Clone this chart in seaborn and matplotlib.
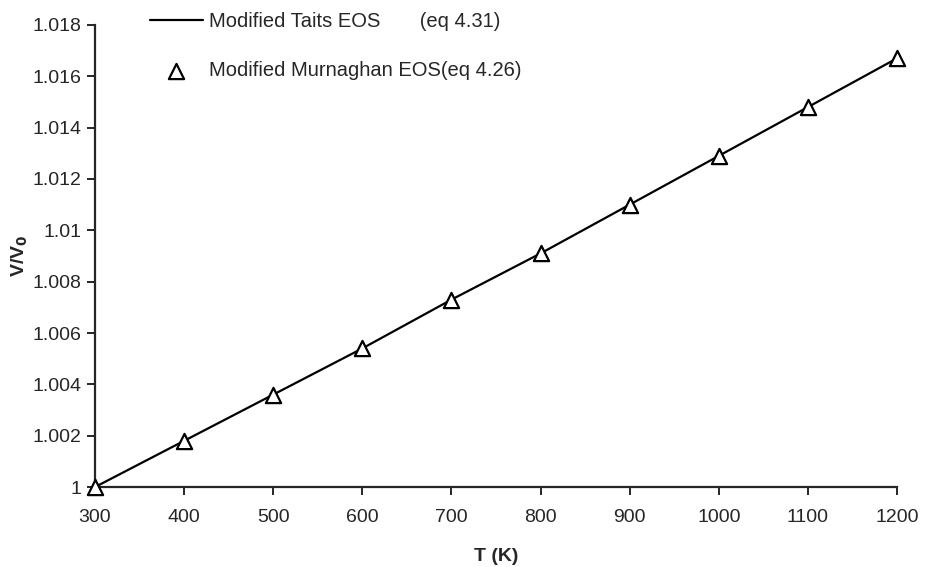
import matplotlib
matplotlib.use("Agg")
import matplotlib.pyplot as plt
import seaborn as sns
import pandas as pd

# Data
temps = [300, 400, 500, 600, 700, 800, 900, 1000, 1100, 1200]
tait = [1.0, 1.0018, 1.0036, 1.0054, 1.0073, 1.0091, 1.0110, 1.0129, 1.0148, 1.0167]
murnaghan = [1.0, 1.0018, 1.0036, 1.0054, 1.0073, 1.0091, 1.0110, 1.0129, 1.0148, 1.0167]
ytick_labels = ["1", "1.002", "1.004", "1.006", "1.008", "1.01",
                "1.012", "1.014", "1.016", "1.018"]

data = pd.DataFrame({"T": temps, "tait": tait, "murn": murnaghan})

sns.set_style("ticks")
plt.rcParams['font.family'] = ['Liberation Sans', 'DejaVu Sans']

fig = plt.figure(figsize=(9.25, 5.67), dpi=100)
ax = fig.add_axes([0.1027, 0.141, 0.867, 0.815])

sns.lineplot(data=data, x="T", y="tait", ax=ax, color="black", linewidth=1.6,
             label="Modified Taits EOS       (eq 4.31)", clip_on=False)
sns.scatterplot(data=data, x="T", y="murn", ax=ax, marker="^", s=120,
                facecolor="white", edgecolor="black", linewidth=1.6, zorder=3,
                label="Modified Murnaghan EOS(eq 4.26)", clip_on=False)

ax.set_xlim(300, 1200)
ax.set_ylim(1.0, 1.018)
ax.set_xticks(temps)
ax.set_yticks([1 + 0.002 * i for i in range(10)])
ax.set_yticklabels(ytick_labels)
ax.tick_params(axis="both", labelsize=14, length=6, width=1.4, direction="out")
ax.tick_params(axis="x", pad=10)
ax.set_xlabel("T (K)", fontsize=14, fontweight="bold", labelpad=16)
ax.set_ylabel("V/V$_\\mathbf{0}$", fontsize=14, fontweight="bold", labelpad=2)
for s in ["left", "bottom"]:
    ax.spines[s].set_linewidth(1.6)
sns.despine(ax=ax)

ax.legend(loc="upper left", bbox_to_anchor=(0.0686, 1.028), frameon=False,
          borderpad=0, borderaxespad=0,
          fontsize=14.5, handlelength=2.63, labelspacing=1.5, handletextpad=0.3)

fig.savefig("out.png", dpi=100)
